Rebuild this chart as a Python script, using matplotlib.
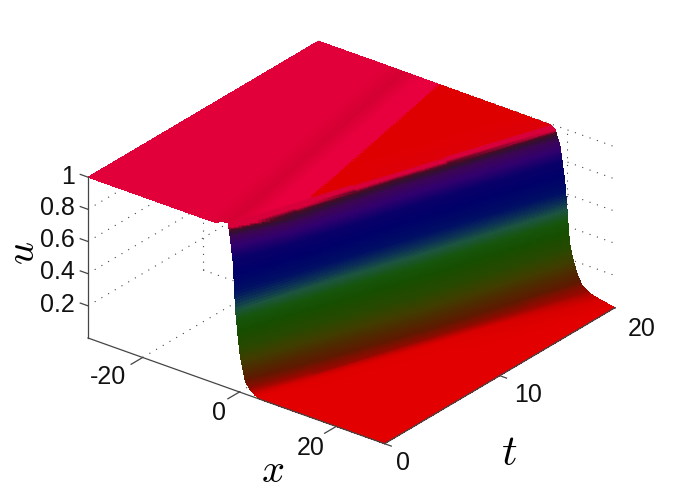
import numpy as np
import matplotlib
matplotlib.use("Agg")
import matplotlib.pyplot as plt
from mpl_toolkits.mplot3d import proj3d

W, H = 681, 500
x_lim = (-31.3, 30.0)
t_lim = (0.0, 20.0)
u_lim = (0.0, 1.0)

x_ticks = [-20, 0, 20]
t_ticks = [0, 10, 20]
u_ticks = [0.2, 0.4, 0.6, 0.8, 1.0]
x_labels = ["-20", "0", "20"]
t_labels = ["0", "10", "20"]
u_labels = ["0.2", "0.4", "0.6", "0.8", "1"]

# wave-front centre (u = 0.5) read at three times
front_t = [0.0, 10.0, 20.0]
front_x = [-0.8, 9.65, 20.1]

# u profile across the front, read at t = 0, 10, 20
prof_xi = [-40, -3.4, -2.5, -1.5, -0.5, 0.0, 0.5, 1.0, 2.0, 3.0, 4.0, 5.0, 7.0, 10.0, 60]
prof_t0 = [1, 1, 1, 0.995, 0.78, 0.5, 0.35, 0.22, 0.08, 0.04, 0.015, 0, 0, 0, 0]
prof_t10 = [1, 0.995, 0.95, 0.86, 0.69, 0.56, 0.45, 0.35, 0.215, 0.11, 0.04, 0.005, 0, 0, 0]
prof_t20 = [1, 0.995, 0.975, 0.89, 0.683, 0.5, 0.30, 0.23, 0.13, 0.07, 0.045, 0.03, 0.015, 0, 0]

# small rise of the plateau just behind the front at early times
rise_t = [0.0, 1.0, 2.0, 3.5]
rise_u = [0.03, 0.02, 0.01, 0.0]
rise_xi = [-4.4, -1.8, -1.0, 0.0]
rise_w = [0.0, 1.0, 1.0, 0.0]

# colour by height
col_u = [0, 0.015, 0.04, 0.09, 0.14, 0.2, 0.28, 0.38, 0.45, 0.51, 0.56, 0.62, 0.72, 0.80, 0.87, 0.92, 0.945, 0.96, 0.975, 1.1]
col_r = [226, 215, 150, 95, 80, 65, 40, 22, 22, 28, 12, 0, 0, 10, 50, 60, 50, 75, 215, 215]
col_g = [0, 0, 8, 25, 40, 60, 72, 78, 85, 85, 50, 15, 0, 0, 0, 5, 15, 10, 0, 0]
col_b = [0, 0, 0, 0, 0, 0, 0, 0, 12, 62, 85, 100, 105, 105, 110, 85, 50, 35, 58, 58]

# colour on the upper plateau, across the oblique band (s = x + 0.545 t)
top_s = [-40, -7, -2.9, 0.5, 4.3, 4.5, 60]
top_r = [226, 226, 212, 232, 232, 222, 222]
top_g = [0, 0, 0, 0, 0, 0, 0]
top_b = [58, 58, 50, 62, 62, 0, 0]
band_speed = 0.545

grey = (0.27, 0.27, 0.27)

fig = plt.figure(figsize=(W / 100, H / 100), dpi=100)
S = 600.0
ax = fig.add_axes([0.0, 0.0, S / W, S / H], projection="3d", proj_type="ortho", computed_zorder=False)
ax.set_xlim(*x_lim, view_margin=0)
ax.set_ylim(*t_lim, view_margin=0)
ax.set_zlim(*u_lim, view_margin=0)
ax.set_box_aspect((1, 1, 0.482), zoom=1.0)
ax.view_init(elev=27.3, azim=-52.15)
ax.set_axis_off()


def to_px(x, t, u):
    a, b, _ = proj3d.proj_transform(x, t, u, ax.get_proj())
    return ax.transData.transform((a, b))


# fit the box to the figure: left and right floor corners
ax.apply_aspect()
p0, p1 = to_px(x_lim[0], t_lim[0], 0), to_px(x_lim[1], t_lim[1], 0)
want0 = np.array([88.0, H - 338.0])
want1 = np.array([615.0, H - 308.0])
S *= np.linalg.norm(want1 - want0) / np.linalg.norm(p1 - p0)
ax.set_position([0, 0, S / W, S / H])
ax.apply_aspect()
p0 = to_px(x_lim[0], t_lim[0], 0)
dx, dy = want0 - p0
ax.set_position([dx / W, dy / H, S / W, S / H])
ax.apply_aspect()

# grid
gkw = dict(color=grey, lw=0.8, ls=(0, (1, 6)), zorder=1)
for u in u_ticks:
    ax.plot([x_lim[0]] * 2, t_lim, [u, u], **gkw)
    ax.plot(x_lim, [t_lim[1]] * 2, [u, u], **gkw)
for t in t_ticks[1:]:
    ax.plot([x_lim[0]] * 2, [t, t], u_lim, **gkw)
    ax.plot(x_lim, [t, t], [0, 0], **gkw)
for x in x_ticks:
    ax.plot([x, x], [t_lim[1]] * 2, u_lim, **gkw)
    ax.plot([x, x], t_lim, [0, 0], **gkw)

# surface: mesh follows the moving front so the steep part stays finely sampled
t_mesh = np.linspace(*t_lim, 81)
c_mesh = np.interp(t_mesh, front_t, front_x)
xi_lo, xi_hi = -5.0, 6.0
xi_front = np.linspace(xi_lo, xi_hi, 340)
n_left, n_right = 150, 30
X = []
for c in c_mesh:
    left = np.linspace(x_lim[0], c + xi_lo, n_left, endpoint=False)
    right = np.linspace(c + xi_hi, x_lim[1], n_right + 1)[1:]
    X.append(np.concatenate([left, c + xi_front, right]))
X = np.array(X)
T = np.repeat(t_mesh[:, None], X.shape[1], axis=1)
XI = X - c_mesh[:, None]
U_a = np.interp(XI, prof_xi, prof_t0)
U_b = np.interp(XI, prof_xi, prof_t10)
U_c = np.interp(XI, prof_xi, prof_t20)
w_ab = np.clip(T / front_t[1], 0, 1)
w_bc = np.clip((T - front_t[1]) / (front_t[2] - front_t[1]), 0, 1)
U = (1 - w_ab) * U_a + w_ab * U_b
U = (1 - w_bc) * U + w_bc * U_c
U_col = U.copy()
U = U + np.interp(T, rise_t, rise_u) * np.interp(XI, rise_xi, rise_w)

Sband = X + band_speed * T
rgb_u = np.stack([np.interp(U_col, col_u, c) for c in (col_r, col_g, col_b)], axis=-1)
rgb_t = np.stack([np.interp(Sband, top_s, c) for c in (top_r, top_g, top_b)], axis=-1)
blend = np.clip((U_col - 0.988) / 0.008, 0, 1)[..., None]
rgb = ((1 - blend) * rgb_u + blend * rgb_t) / 255.0
rgba = np.concatenate([rgb, np.ones(U.shape + (1,))], axis=-1)

ax.plot_surface(X, T, U, facecolors=rgba, rstride=1, cstride=1, shade=False,
                linewidth=0, antialiased=False, zorder=2)

# axis lines and ticks
lkw = dict(color=grey, lw=0.9, zorder=3)
ax.plot(x_lim, [t_lim[0]] * 2, [0, 0], **lkw)
ax.plot([x_lim[1]] * 2, t_lim, [0, 0], **lkw)
ax.plot([x_lim[0]] * 2, [t_lim[0]] * 2, u_lim, **lkw)
for x in x_ticks:
    ax.plot([x, x], [t_lim[0], t_lim[0] - 1.0], [0, 0], **lkw)
for t in t_ticks:
    ax.plot([x_lim[1], x_lim[1] + 1.4], [t, t], [0, 0], **lkw)
for u in u_ticks:
    ax.plot([x_lim[0], x_lim[0] - 1.6], [t_lim[0]] * 2, [u, u], **lkw)
ax.set_xlim(*x_lim, view_margin=0)
ax.set_ylim(*t_lim, view_margin=0)
ax.set_zlim(*u_lim, view_margin=0)


def label(px, py, s, **kw):
    fig.text(px / W, 1 - py / H, s, **kw)


tkw = dict(family="Liberation Sans", fontsize=18, color="#111111", va="center")
for s, py in zip(u_labels, [305, 272, 240, 208, 177]):
    label(75, py, s, ha="right", **tkw)
for s, (px, py) in zip(x_labels, [(108, 377), (219, 413), (311, 448)]):
    label(px, py, s, ha="center", **tkw)
for s, (px, py) in zip(t_labels, [(403, 463), (528, 395), (642, 329)]):
    label(px, py, s, ha="center", **tkw)

plt.rcParams["mathtext.fontset"] = "cm"
mkw = dict(fontsize=29, color="black", ha="center", va="center")
label(273, 471, r"$x$", **mkw)
label(509, 453, r"$t$", fontsize=31, color="black", ha="center", va="center")
label(23, 253, r"$u$", rotation=90, **mkw)

fig.savefig("out.png", dpi=100)
